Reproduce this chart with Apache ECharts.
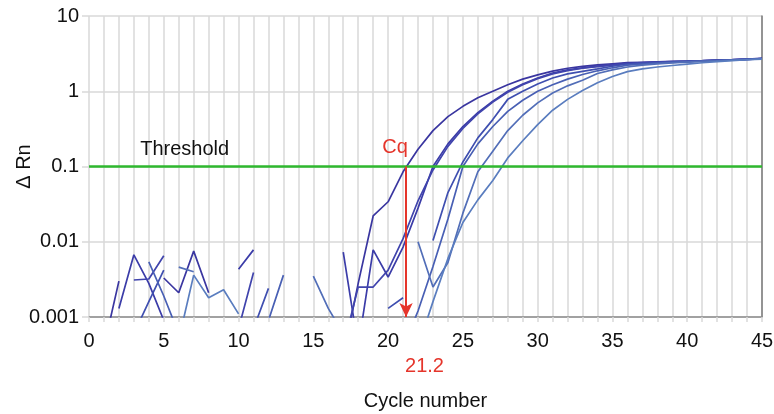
<!DOCTYPE html>
<html>
<head>
<meta charset="utf-8">
<script src="https://cdn.jsdelivr.net/npm/echarts@6/dist/echarts.min.js"></script>
<style>html,body{margin:0;padding:0;background:#fff}#c{width:774px;height:414px}</style>
</head>
<body>
<div id="c"></div>
<script>
// Cycle index 0..45 ; null = no reading (gap); values below 0.001 run off the bottom
const _ = null;
const xTickLabels = ['0','5','10','15','20','25','30','35','40','45'];
const yTickLabels = ['0.001','0.01','0.1','1','10'];
const thresholdValue = 0.1;
const cqValue = 21.2;

const curveA = [_,0.0004,0.003,_,_,0.0033,0.0021,0.0075,0.0021,_,_,_,_,_,_,_,_,0.0003,0.0028,0.022,0.034,0.085,0.17,0.3,0.46,0.63,0.82,1.0,1.22,1.45,1.65,1.85,2.02,2.14,2.24,2.32,2.4,2.43,2.46,2.49,2.52,2.55,2.59,2.63,2.68,2.74];
const curveB = [_,_,0.0013,0.0067,0.0028,0.0009,_,_,_,_,0.0043,0.0078,_,_,_,_,_,0.0073,0.0004,0.0078,0.0034,0.0085,0.028,0.1,0.2,0.34,0.52,0.74,1.0,1.25,1.5,1.75,1.92,2.05,2.16,2.26,2.35,2.4,2.44,2.47,2.5,2.54,2.58,2.62,2.67,2.72];
const curveB2 = [_,_,_,0.0031,0.0032,0.0065,_,_,_,_,0.0007,0.0039,_,_,_,_,_,0.0004,0.0025,0.0025,0.0042,0.011,0.035,0.09,0.185,0.32,0.5,0.72,0.97,1.22,1.47,1.7,1.88,2.02,2.13,2.23,2.33,2.38,2.42,2.46,2.49,2.53,2.57,2.61,2.66,2.71];
const curveC = [_,_,_,0.0006,0.0016,0.0042,_,_,_,_,_,0.0007,0.0024,_,_,_,_,_,_,_,0.0013,0.0018,_,0.0104,0.045,0.115,0.24,0.42,0.78,1.0,1.25,1.5,1.7,1.84,1.98,2.15,2.3,2.36,2.41,2.45,2.49,2.53,2.57,2.61,2.66,2.71];
const curveD = [_,_,_,_,0.0054,0.0019,0.0006,_,_,_,_,_,0.0009,0.0036,_,_,_,_,_,_,_,0.0004,0.0012,0.0047,0.02,0.1,0.2,0.34,0.54,0.76,1.0,1.22,1.45,1.67,1.87,2.05,2.22,2.3,2.37,2.42,2.47,2.51,2.56,2.6,2.65,2.7];
const curveE = [_,_,_,_,_,_,0.0046,0.004,_,_,_,_,_,_,_,0.0035,0.0013,0.0006,_,_,_,_,0.01,0.0025,0.0053,0.024,0.085,0.16,0.3,0.48,0.7,0.95,1.18,1.4,1.72,1.92,2.1,2.22,2.31,2.38,2.44,2.49,2.54,2.59,2.64,2.69];
const curveF = [_,_,_,_,_,_,0.0005,0.0036,0.0018,0.0023,0.0011,_,_,_,_,_,_,_,_,_,_,_,0.0004,0.0016,0.006,0.018,0.036,0.065,0.13,0.22,0.36,0.56,0.78,1.02,1.3,1.57,1.82,1.98,2.1,2.2,2.3,2.39,2.47,2.55,2.62,2.68];

const curves = [curveA, curveB, curveB2, curveC, curveD, curveE, curveF];
const curveColors = ['#3a36a0','#3b3ca8','#4044ad','#3f4fb0','#485fb4','#526eb8','#5a7dbf'];

const FONT = "'Liberation Sans', Arial, Helvetica, sans-serif";
const GRID_COLOR = '#d9d9d9';
const RED = '#e5352b';
const GREEN = '#2fb82f';

const series = curves.map((c, k) => ({
  type: 'line',
  data: c.map((v, i) => [i, v]),
  showSymbol: false,
  symbol: 'none',
  connectNulls: false,
  clip: true,
  lineStyle: { color: curveColors[k], width: 1.7 },
  z: 3
}));

series.push({
  type: 'line',
  data: [],
  z: 10,
  markLine: {
    silent: true,
    animation: false,
    label: { show: false },
    lineStyle: { width: 2.5, type: 'solid' },
    data: [
      [{ coord: [0, thresholdValue], symbol: 'none', lineStyle: { color: GREEN, width: 2.5, type: 'solid' } },
       { coord: [45, thresholdValue], symbol: 'none' }],
      [{ coord: [cqValue, thresholdValue], symbol: 'none', lineStyle: { color: RED, width: 2, type: 'solid' } },
       { coord: [cqValue, 0.001], symbol: 'arrow', symbolSize: [10, 14] }]
    ]
  },
  markPoint: {
    silent: true,
    animation: false,
    symbol: 'circle',
    symbolSize: 0,
    data: [
      { coord: [6.4, thresholdValue], label: { show: true, formatter: 'Threshold', position: [0, -17], align: 'center', verticalAlign: 'middle', color: '#111', fontSize: 20, fontFamily: FONT } },
      { coord: [cqValue, thresholdValue], label: { show: true, formatter: 'Cq', position: [-11, -19], align: 'center', verticalAlign: 'middle', color: RED, fontSize: 20, fontFamily: FONT } },
      { coord: [cqValue, 0.001], label: { show: true, formatter: String(cqValue), position: [-1, 49], align: 'left', verticalAlign: 'middle', color: RED, fontSize: 20, fontFamily: FONT } }
    ]
  }
});

const chart = echarts.init(document.getElementById('c'), null, { renderer: 'canvas' });
chart.setOption({
  animation: false,
  backgroundColor: '#fff',
  grid: { left: 89, right: 12, top: 16, bottom: 97, containLabel: false, outerBoundsMode: 'none' },
  xAxis: {
    type: 'value', min: 0, max: 45, interval: 1,
    name: 'Cycle number', nameLocation: 'middle', nameGap: 74, nameMoveOverlap: false,
    nameTextStyle: { fontSize: 20, color: '#111', fontFamily: FONT },
    axisLine: { show: true, lineStyle: { color: '#8c8c8c', width: 1.5 } },
    axisTick: { show: true, length: 5, lineStyle: { color: GRID_COLOR, width: 1.5 } },
    axisLabel: {
      margin: 14, fontSize: 20, color: '#111', fontFamily: FONT,
      formatter: v => (xTickLabels.indexOf(String(Math.round(v))) >= 0 && Math.abs(v - Math.round(v)) < 1e-6) ? String(Math.round(v)) : ''
    },
    splitLine: { show: true, lineStyle: { color: GRID_COLOR, width: 1.5 } }
  },
  yAxis: [{
    type: 'log', logBase: 10, min: 0.001, max: 10,
    name: 'Δ Rn', nameLocation: 'middle', nameGap: 55, nameRotate: 90, nameMoveOverlap: false,
    nameTextStyle: { fontSize: 20, color: '#111', fontFamily: FONT },
    axisLine: { show: false },
    axisTick: { show: true, length: 7, lineStyle: { color: GRID_COLOR, width: 1.5 } },
    axisLabel: {
      margin: 10, fontSize: 20, color: '#111', fontFamily: FONT,
      formatter: v => { const e = Math.round(Math.log10(v)); return yTickLabels[e + 3] || ''; }
    },
    splitLine: { show: true, lineStyle: { color: GRID_COLOR, width: 1.5 } }
  }, {
    type: 'log', logBase: 10, min: 0.001, max: 10, position: 'right',
    axisLine: { show: true, lineStyle: { color: '#7a7a7a', width: 1.5 } },
    axisTick: { show: false }, axisLabel: { show: false }, splitLine: { show: false }
  }],
  series: series
});
</script>
</body>
</html>
